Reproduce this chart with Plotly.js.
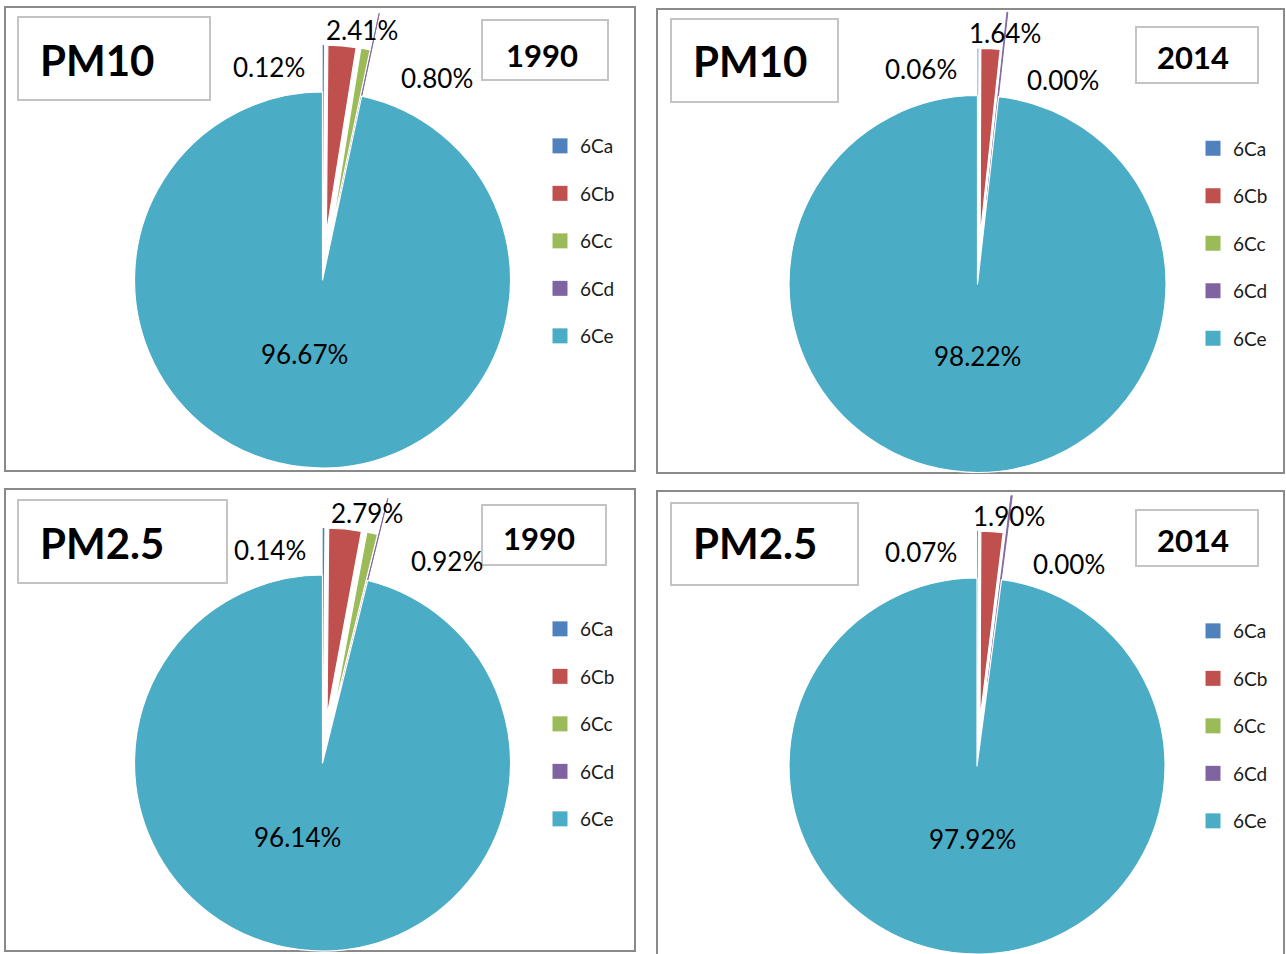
<!DOCTYPE html>
<html><head><meta charset="utf-8">
<script src="https://cdn.plot.ly/plotly-3.0.1.min.js"></script>
<style>html,body{margin:0;padding:0;overflow:hidden;background:#fff}</style>
</head><body><div id="chart"></div>
<script>
// ---- data ----
const categories = ['6Ca', '6Cb', '6Cc', '6Cd', '6Ce'];
const pm10_1990 = [0.12, 2.41, 0.80, 0.01, 96.67];
const pm10_2014 = [0.06, 1.64, 0.003, 0.08, 98.22];
const pm25_1990 = [0.14, 2.79, 0.92, 0.01, 96.14];
const pm25_2014 = [0.07, 1.90, 0.003, 0.11, 97.92];
const pollutants = ['PM10', 'PM10', 'PM2.5', 'PM2.5'];
const years = ['1990', '2014', '1990', '2014'];
const colors = ['#4F81BD', '#C0504D', '#9BBB59', '#8064A2', '#4BACC6'];

// ---- style / layout ----
const W = 1286, H = 1100;
const FONT = 'Lato, "Open Sans", sans-serif';
const pulls = [0.25, 0.25, 0.25, 0.45, 0];
const lineColors = ['#4F81BD', '#ffffff', '#ffffff', '#8064A2', '#ffffff'];
const lineWidths = [0, 1.2, 1.2, 0.9, 1.2];
const panels = [
  {values: pm10_1990, cx: 322.5, cy: 280, r: 188, frame: [5, 7, 635, 471], tbox: [18, 17, 210, 100], ybox: [482, 20, 608, 80],
   tpos: [38, 60], ypos: [542, 55], leg: [540, 127], lab: [[269, 67], [362, 30], [437, 78], null, [304, 354]]},
  {values: pm10_2014, cx: 977.5, cy: 284, r: 188.5, frame: [657, 9, 1284, 473], tbox: [671, 19, 838, 102], ybox: [1136, 27, 1258, 83],
   tpos: [691, 61], ypos: [1193, 57], leg: [1193, 129.5], lab: [[921, 69], [1005, 33], [1063, 80], null, [977, 356]]},
  {values: pm25_1990, cx: 322.5, cy: 763, r: 188, frame: [5, 489, 635, 951], tbox: [18, 500, 227, 583], ybox: [482, 505, 606, 565],
   tpos: [38, 543], ypos: [539, 538], leg: [540, 610], lab: [[270, 550], [367, 513], [447, 561], null, [297, 837]]},
  {values: pm25_2014, cx: 977, cy: 766, r: 188, frame: [657, 491, 1284, 960], tbox: [671, 503, 858, 585], ybox: [1136, 510, 1258, 566],
   tpos: [691, 543], ypos: [1193, 540], leg: [1193, 612], lab: [[921, 552], [1009, 516], [1069, 564], null, [972, 839]]}
];

const px = x => x / W;
const py = y => 1 - y / H;
const maxPull = Math.max(...pulls);

const traces = [];
const shapes = [];
const annotations = [];
const layout = {
  width: W, height: H,
  margin: {l: 0, r: 0, t: 0, b: 0},
  paper_bgcolor: '#ffffff', plot_bgcolor: '#ffffff',
  xaxis: {visible: false}, yaxis: {visible: false},
  showlegend: true,
  font: {family: FONT, color: '#000'},
  shapes: shapes, annotations: annotations
};

panels.forEach((p, i) => {
  const half = p.r * (1 + maxPull);
  const legName = i === 0 ? 'legend' : 'legend' + (i + 1);
  traces.push({
    type: 'pie', labels: categories, values: p.values, sort: false,
    direction: 'clockwise', rotation: 0, pull: pulls,
    marker: {colors: colors, line: {color: lineColors, width: lineWidths}},
    textinfo: 'none', hoverinfo: 'label+percent', showlegend: false,
    domain: {x: [px(p.cx - half), px(p.cx + half)], y: [py(p.cy + half), py(p.cy - half)]}
  });
  // legend entries
  categories.forEach((c, k) => {
    traces.push({
      type: 'scatter', mode: 'markers', x: [null], y: [null], name: c,
      marker: {symbol: 'square', size: 15, color: colors[k]},
      legend: legName, legendgroup: 'p' + i + c, hoverinfo: 'skip'
    });
  });
  layout[legName] = {
    x: px(p.leg[0]), y: py(p.leg[1]), xanchor: 'left', yanchor: 'top',
    orientation: 'v', traceorder: 'grouped', tracegroupgap: 19.8,
    bgcolor: 'rgba(0,0,0,0)', borderwidth: 0,
    font: {family: FONT, size: 19, color: '#1a1a1a'}
  };
  // frames
  const rect = (b, col, w) => ({type: 'rect', xref: 'paper', yref: 'paper', layer: 'below',
    x0: px(b[0]), x1: px(b[2]), y0: py(b[3]), y1: py(b[1]), line: {color: col, width: w}, fillcolor: 'rgba(0,0,0,0)'});
  shapes.push(rect(p.frame, '#8a8a8a', 2));
  shapes.push(rect(p.tbox, '#c4c4c4', 2));
  shapes.push(rect(p.ybox, '#c4c4c4', 2));
  annotations.push({xref: 'paper', yref: 'paper', x: px(p.tpos[0]), y: py(p.tpos[1]), xanchor: 'left', yanchor: 'middle',
    text: '<b>' + pollutants[i] + '</b>', showarrow: false, font: {family: FONT, size: 42, color: '#000'}});
  annotations.push({xref: 'paper', yref: 'paper', x: px(p.ypos[0]), y: py(p.ypos[1]), xanchor: 'center', yanchor: 'middle',
    text: '<b>' + years[i] + '</b>', showarrow: false, font: {family: FONT, size: 31, color: '#000'}});
  // data labels
  p.lab.forEach((pos, k) => {
    if (!pos) return;
    annotations.push({xref: 'paper', yref: 'paper', x: px(pos[0]), y: py(pos[1]), xanchor: 'center', yanchor: 'middle',
      text: p.values[k].toFixed(2) + '%', showarrow: false, font: {family: FONT, size: 26, color: '#000'}});
  });
});

Plotly.newPlot('chart', traces, layout, {displayModeBar: false, staticPlot: true});
</script></body></html>
